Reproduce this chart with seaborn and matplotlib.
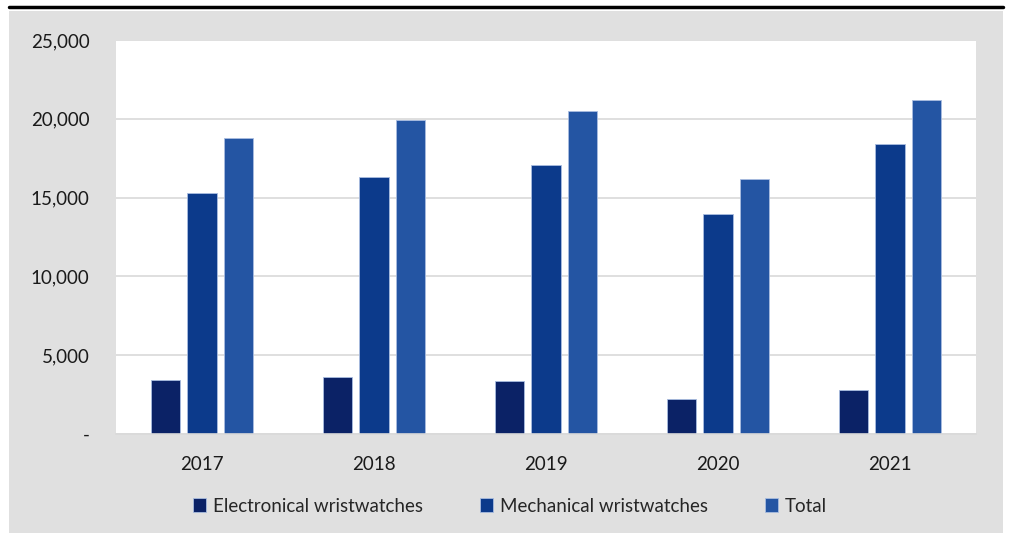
import pandas as pd
import numpy as np
import matplotlib.pyplot as plt
import seaborn as sns
from matplotlib.patches import Rectangle
from matplotlib.lines import Line2D
from matplotlib.ticker import FuncFormatter

# data
years = ['2017', '2018', '2019', '2020', '2021']
electronical = [3400, 3600, 3350, 2250, 2800]
mechanical = [15300, 16300, 17100, 13950, 18400]
total = [18800, 19950, 20500, 16150, 21200]
series_names = ['Electronical wristwatches', 'Mechanical wristwatches', 'Total']
colors = ['#0b2266', '#0c3a8b', '#2455a3']

df = pd.DataFrame({
    'year': years * 3,
    'value': electronical + mechanical + total,
    'series': [series_names[0]] * 5 + [series_names[1]] * 5 + [series_names[2]] * 5,
})

sns.set_style('white')
plt.rcParams['font.family'] = ['Lato', 'DejaVu Sans']

fig = plt.figure(figsize=(10.11, 5.33), dpi=100)
fig.patch.set_facecolor('white')
# grey panel behind the chart and the black rule on top
fig.patches.append(Rectangle((9 / 1011, 0), 994 / 1011, 1 - 11 / 533,
                             transform=fig.transFigure, facecolor='#e0e0e0',
                             edgecolor='none', zorder=-10))
fig.add_artist(Line2D([9 / 1011, 1003 / 1011], [1 - 7 / 533, 1 - 7 / 533],
                      transform=fig.transFigure, color='black', linewidth=2.5))

ax = fig.add_axes([116 / 1011, 1 - 434 / 533, 860 / 1011, 394 / 533])
ax.set_facecolor('white')
sns.barplot(data=df, x='year', y='value', hue='series', palette=colors,
            saturation=1, width=0.64, gap=0.2, edgecolor='#a9bde0', linewidth=0.6,
            ax=ax, legend=True)

ax.set_ylim(0, 25000)
ax.set_yticks(np.arange(0, 25001, 5000))
ax.yaxis.set_major_formatter(FuncFormatter(lambda v, p: '-' if v == 0 else f'{int(v):,}'))
ax.grid(axis='y', color='#d9d9d9', linewidth=1.2)
ax.set_axisbelow(True)
for s in ['top', 'right', 'left']:
    ax.spines[s].set_visible(False)
ax.spines['bottom'].set_color('#d9d9d9')
ax.spines['bottom'].set_linewidth(1.2)
ax.tick_params(axis='y', length=0, pad=19, labelsize=13.5, colors='#1a1a1a')
ax.tick_params(axis='x', length=0, pad=16, labelsize=13.5, colors='#1a1a1a')
ax.set_xlabel('')
ax.set_ylabel('')

handles, labels = ax.get_legend_handles_labels()
ax.get_legend().remove()
fig.legend(handles, labels, loc='center', bbox_to_anchor=(510 / 1011, 1 - 506 / 533),
           ncol=3, frameon=False, fontsize=13.5, handlelength=0.7, handleheight=0.7,
           handletextpad=0.4, columnspacing=3.0)

fig.savefig('out.png', dpi=100)
